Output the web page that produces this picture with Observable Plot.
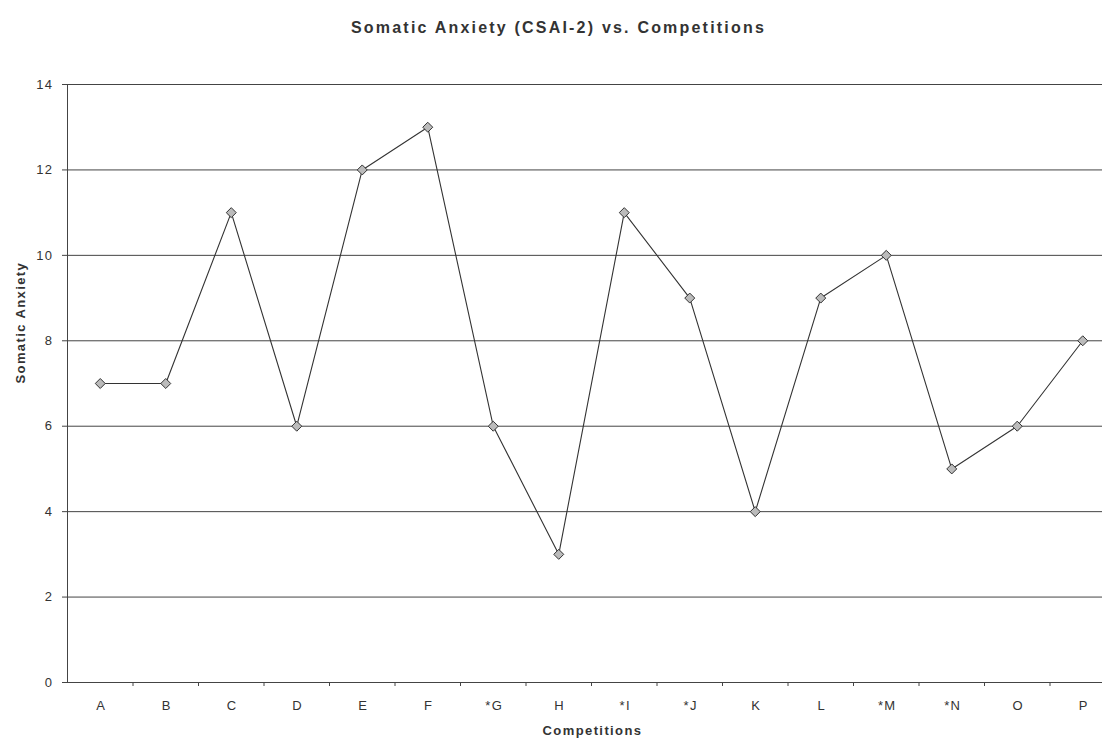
<!DOCTYPE html>
<html>
<head>
<meta charset="utf-8">
<script src="https://cdn.jsdelivr.net/npm/d3@7"></script>
<script src="https://cdn.jsdelivr.net/npm/@observablehq/plot@0.6"></script>
<style>
  html, body { margin: 0; padding: 0; background: #fff; overflow: hidden; }
  #title { height: 56px; width: 1115px; font: bold 16px "Liberation Sans", Arial, sans-serif; color: #333;
    display: flex; align-items: center; justify-content: center; letter-spacing: 2.2px; box-sizing: border-box; padding-left: 2px; }
  #chart svg { display: block; }
</style>
</head>
<body>
<div id="title">Somatic Anxiety (CSAI-2) vs. Competitions</div>
<div id="chart"></div>
<script>
const competitions = ["A","B","C","D","E","F","*G","H","*I","*J","K","L","*M","*N","O","P"];
const somaticAnxiety = [7,7,11,6,12,13,6,3,11,9,4,9,10,5,6,8];
const yTicks = [0,2,4,6,8,10,12,14];

const data = competitions.map((c, i) => ({c, i: i + 0.5, v: somaticAnxiety[i]}));
const font = '"Liberation Sans", Arial, sans-serif';

const chart = Plot.plot({
  width: 1102,
  height: 690,
  marginLeft: 67,
  marginRight: -13,
  marginTop: 28,
  marginBottom: 64,
  style: {fontFamily: font, fontSize: "13px", color: "#333", background: "#fff", letterSpacing: "1.4px"},
  x: {domain: [0, competitions.length]},
  y: {domain: [0, 14]},
  marks: [
    Plot.ruleY(yTicks, {stroke: "#444", strokeWidth: 1}),
    Plot.ruleX([0], {stroke: "#444", strokeWidth: 1}),
    Plot.axisY({ticks: yTicks, tickSize: 5, tickPadding: 9, fontSize: 13, label: null, stroke: "#444"}),
    Plot.text(["Somatic Anxiety"], {frameAnchor: "left", dx: -47, rotate: -90, fontWeight: "bold", fontSize: 13, fill: "#333", style: "letter-spacing:2px"}),
    Plot.axisX({ticks: d3.range(1, competitions.length), tickSize: 4, tickFormat: () => "", label: null, stroke: "#444"}),
    Plot.text(data, {x: "i", y: 0, text: "c", dy: 23, dx: 1, fontSize: 13, fill: "#333"}),
    Plot.text(["Competitions"], {frameAnchor: "bottom", dy: 52, dx: 1, fontWeight: "bold", fontSize: 13, fill: "#333"}),
    Plot.line(data, {x: "i", y: "v", stroke: "#333", strokeWidth: 1.1}),
    Plot.dot(data, {x: "i", y: "v", symbol: "diamond2", r: 4.5, fill: "#bbb", stroke: "#333", strokeWidth: 1})
  ]
});
document.getElementById("chart").append(chart);
</script>
</body>
</html>
